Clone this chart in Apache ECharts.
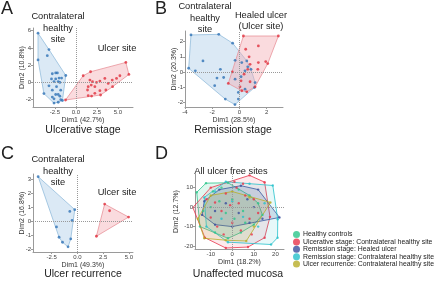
<!DOCTYPE html>
<html><head><meta charset="utf-8">
<script src="https://cdn.jsdelivr.net/npm/echarts@6/dist/echarts.min.js"></script>
<style>html,body{margin:0;padding:0;background:#fff}#c{width:440px;height:282px}</style>
</head><body><div id="c"></div>
<script>
// ---- Panel A: Ulcerative stage ----
const aContra = [[-4.5,5.7],[-3.2,3.8],[-3.4,3.1],[-4.5,2.6],[-1.2,0.8],[-3.8,-1.3],[-2.6,-2.4],[-2.1,-2.3],[-1.8,-2.0],
  [-2.8,1.0],[-2.4,1.1],[-2.2,1.1],[-2.9,0.4],[-2.4,0.4],[-2.0,0.5],[-1.7,0.5],[-2.6,0.1],[-2.1,0.1],[-1.9,0.0],
  [-3.2,-0.4],[-2.3,-0.5],[-2.8,-0.9],[-1.8,-0.9],[-2.4,-1.4],[-2.1,-1.4],[-1.9,-1.6],[-2.8,-1.7],[-2.6,-1.9],[-1.6,-2.1]];
const aUlcer = [[-1.23,-2.04],[0.87,0.77],[1.75,1.23],[5.95,2.31],[6.31,0.92],[5.24,0.77],[4.84,0.46],[4.33,0.27],[3.85,-0.12],
  [3.45,0.46],[2.86,0.15],[2.46,0.0],[1.98,0.08],[1.67,0.27],[1.47,-0.5],[1.83,-0.31],[2.26,-0.5],[1.39,-0.88],[2.86,-0.96],
  [3.57,-0.88],[4.37,-0.5],[2.26,-1.27],[2.94,-1.46],[1.47,-1.54],[1.87,-1.58]];
// ---- Panel B: Remission stage ----
const bContra = [[-3.56,2.44],[-1.52,2.48],[-0.5,1.9],[-3.73,0.25],[-3.24,0.08],[-2.68,0.73],[-1.4,0.18],[-1.65,-0.4],
  [-1.16,-0.36],[-1.82,-0.9],[-1.04,-1.78],[-0.33,-2.14],[-0.32,0.77],[0.17,0.62],[0.54,0.73],[0.61,0.34],[1.15,-0.69],
  [1.1,-1.02],[0.41,-1.13],[-0.08,-1.34],[-0.08,-1.78],[0.12,-0.31],[-0.32,-0.47],[0.41,0.08],[0.85,0.18]];
const bHealed = [[0.29,2.37],[2.86,2.37],[1.39,1.72],[0.46,1.5],[0.71,1.0],[1.39,0.62],[1.93,0.69],[2.08,0.56],[0.78,0.51],
  [0.61,0.18],[1.35,0.18],[-0.52,0.01],[0.34,-0.14],[0.12,-0.58],[0.78,-0.64],[-0.82,-0.75],[0.04,-0.97],[0.17,-1.23],
  [1.15,-0.97],[0.54,-1.3]];
// ---- Panel C: Ulcer recurrence ----
const cContra = [[-3.8,3.21],[-0.25,0.84],[-0.73,0.71],[-0.51,0.07],[-2.02,-0.4],[-1.77,-1.14],[-1.44,-1.5],[-0.9,-1.83],[-0.64,-1.26]];
const cUlcer = [[2.65,1.24],[3.13,0.76],[4.97,0.31],[1.85,-1.07]];
// ---- Panel D: Unaffected mucosa ----
const dHealthy = [[-16.5,7.6],[-12.2,12.3],[-9,8],[-5,10],[-2,12.5],[3,9],[8,6],[12,2],[14,-4],[10,-9],[4,-13],[-2,-16],
  [-8,-13],[-13.5,-2],[-15,-10],[-6,3],[-3,-3],[1,-6],[5,-2],[-10,0],[0,4],[6,-8]];
const dUlcerative = [[-18.3,-0.2],[-10,10],[1,13],[8,16.3],[15,12.8],[17.5,-5],[15,-15.7],[7.3,-20.5],[-3,-21],[-12.7,-15.7],
  [-8,2.4],[-10,-5.3],[-3,7],[2,10],[6,6],[10,4],[-5,-2],[0,-8],[4,-12],[-7,-10],[12,-3],[3,2],[-1,1],[8,-6],[-12,4],[-4,-14],[5,12],[9,-14]];
const dHealed = [[21.9,-5.3],[12,9],[4,11],[-6,9],[-13,3],[-14,-4],[-8,-9],[0,-10],[8,-8],[14,-6],[-3,2],[3,-3],[7,4],[-8,-2],[10,0]];
const dRemContra = [[18.8,11.1],[21.1,-6.2],[21,-15.7],[18,-19.2],[-2,-18],[-12,-10],[-13,5],[-3,13],[8,12],[5,-5],[-5,-6],[12,-10],[0,3],[15,2],[-8,8]];
const dRecurrence = [[17.7,2.4],[10,-10],[6.5,-17.4],[-3,-17],[-13,-16],[-16,-6],[-10,6],[0,8],[8,5]];
const legendNames = ['Healthy controls','Ulcerative stage: Contralateral healthy site','Remission stage: Healed ulcer',
  'Remission stage: Contralateral healthy site','Ulcer recurrence: Contralateral healthy site'];
// ticks
const aXTicks=[-2.5,0,2.5,5], aYTicks=[-2,0,2,4,6];
const bXTicks=[-4,-2,0,2], bYTicks=[-2,-1,0,1,2];
const cXTicks=[-2.5,0,2.5,5], cYTicks=[-2,-1,0,1,2,3];
const dXTicks=[-10,0,10,20], dYTicks=[-20,-10,0,10];

function hull(pts){
  const p=pts.slice().sort((a,b)=>a[0]-b[0]||a[1]-b[1]);
  const cr=(o,a,b)=>(a[0]-o[0])*(b[1]-o[1])-(a[1]-o[1])*(b[0]-o[0]);
  const lo=[],up=[];
  for(const q of p){while(lo.length>=2&&cr(lo[lo.length-2],lo[lo.length-1],q)<=0)lo.pop();lo.push(q);}
  for(let i=p.length-1;i>=0;i--){const q=p[i];while(up.length>=2&&cr(up[up.length-2],up[up.length-1],q)<=0)up.pop();up.push(q);}
  up.pop();lo.pop();return lo.concat(up);
}
function hullSeries(pts,gi,fill,stroke){
  const h=hull(pts);
  return {type:'custom',xAxisIndex:gi,yAxisIndex:gi,silent:true,z:1,data:h,encode:{x:0,y:1},
    renderItem(params,api){
      if(params.dataIndex!==0) return null;
      return {type:'polygon',shape:{points:h.map(p=>api.coord(p))},style:{fill:fill,stroke:stroke,lineWidth:0.8}};
    }};
}
function scat(name,pts,gi,color,zero,size){
  const s={type:'scatter',name:name,xAxisIndex:gi,yAxisIndex:gi,data:pts,symbolSize:size||2.8,z:3,
    itemStyle:{color:color},silent:true};
  if(zero){s.markLine={silent:true,symbol:'none',label:{show:false},
    lineStyle:{type:'dotted',color:'#999',width:1},data:[{xAxis:0},{yAxis:0}]};}
  return s;
}
const F='"Liberation Sans", Arial, sans-serif';
const grids=[
  {left:33,top:28,width:100,height:79},
  {left:185,top:31,width:98,height:76},
  {left:33,top:174,width:100,height:78},
  {left:195,top:174,width:89,height:75}
];
const axisDefs=[
  {x:[-5.1,6.8,aXTicks,v=>v.toFixed(1),'Dim1 (42.7%)'],y:[-2.85,6.3,aYTicks,'Dim2 (10.8%)']},
  {x:[-4,3.2,bXTicks,v=>String(v),'Dim1 (28.5%)'],y:[-2.3,2.7,bYTicks,'Dim2 (20.3%)']},
  {x:[-4.3,5.4,cXTicks,v=>v.toFixed(1),'Dim1 (49.3%)'],y:[-2.2,3.4,cYTicks,'Dim2 (16.8%)']},
  {x:[-17.3,24,dXTicks,v=>String(v),'Dim1 (18.2%)'],y:[-21.5,17,dYTicks,'Dim2 (12.7%)']}
];
const lc='#9a9a9a';
const xAxis=axisDefs.map((d,i)=>({type:'value',gridIndex:i,min:d.x[0],max:d.x[1],
  axisLine:{show:true,onZero:false,lineStyle:{color:lc,width:1}},
  axisTick:{show:true,customValues:d.x[2],length:2,lineStyle:{color:lc}},
  axisLabel:{customValues:d.x[2],formatter:d.x[3],fontSize:6,color:'#444',margin:2,fontFamily:F},
  splitLine:{show:false},name:d.x[4],nameLocation:'middle',nameGap:10,nameMoveOverlap:false,
  nameTextStyle:{fontSize:7,color:'#333',fontFamily:F}}));
const yAxis=axisDefs.map((d,i)=>({type:'value',gridIndex:i,min:d.y[0],max:d.y[1],
  axisLine:{show:true,onZero:false,lineStyle:{color:lc,width:1}},
  axisTick:{show:true,customValues:d.y[2],length:2,lineStyle:{color:lc}},
  axisLabel:{customValues:d.y[2],fontSize:6,color:'#444',margin:2,fontFamily:F},
  splitLine:{show:false},name:d.y[3],nameLocation:'middle',nameGap:i===3?15.5:7,nameMoveOverlap:false,
  nameTextStyle:{fontSize:7,color:'#333',fontFamily:F}}));
const BF='rgba(176,206,232,0.45)',BS='#93bcdc',BP='#2f72b5';
const RF='rgba(243,170,176,0.42)',RS='#e8939a',RP='#e0303c';
const dCols=['#2cc58b','#e8334a','#3a4e9c','#26c1cb','#b8ad28'];
const dFills=['rgba(44,197,139,0.14)','rgba(232,51,74,0.10)','rgba(58,78,156,0.17)','rgba(38,193,203,0.11)','rgba(184,173,40,0.13)'];
const dSets=[dHealthy,dUlcerative,dHealed,dRemContra,dRecurrence];
const series=[
  hullSeries(aContra,0,BF,BS),hullSeries(aUlcer,0,RF,RS),
  scat('a1',aContra,0,BP,true),scat('a2',aUlcer,0,RP,false),
  hullSeries(bContra,1,BF,BS),hullSeries(bHealed,1,RF,RS),
  scat('b1',bContra,1,BP,true),scat('b2',bHealed,1,RP,false),
  hullSeries(cContra,2,BF,BS),hullSeries(cUlcer,2,RF,RS),
  scat('c1',cContra,2,BP,true),scat('c2',cUlcer,2,RP,false)
];
dSets.forEach((s,i)=>series.push(hullSeries(s,3,dFills[i],dCols[i])));
dSets.forEach((s,i)=>series.push(scat(legendNames[i],s,3,dCols[i],i===0,2.4)));
function txt(x,y,t,fs,align){return {type:'text',x:x,y:y,silent:true,
  style:{text:t,fontSize:fs,fontFamily:F,fill:'#222',align:align||'center',verticalAlign:'middle',lineHeight:fs*1.25}};}
const graphic=[
  txt(1,9,'A',18,'left'),txt(155,9,'B',18,'left'),txt(1,154,'C',18,'left'),txt(155,154,'D',18,'left'),
  txt(58,28,'Contralateral\nhealthy\nsite',9.3),txt(117,48,'Ulcer site',9.3),
  txt(205,18,'Contralateral\nhealthy\nsite',9.3),txt(261,21,'Healed ulcer\n(Ulcer site)',9.3),
  txt(58,171,'Contralateral\nhealthy\nsite',9.3),txt(117,192,'Ulcer site',9.3),
  txt(231,171,'All ulcer free sites',9.3),
  txt(83,130,'Ulcerative stage',10.5),txt(233,130,'Remission stage',10.5),
  txt(83,274,'Ulcer recurrence',10.5),txt(238,274,'Unaffected mucosa',10.5)
];
const chart=echarts.init(document.getElementById('c'),null,{renderer:'canvas'});
chart.setOption({animation:false,backgroundColor:'#fff',grid:grids,xAxis:xAxis,yAxis:yAxis,series:series,graphic:graphic,
  legend:{data:legendNames,orient:'vertical',left:293,top:231,itemWidth:7,itemHeight:7,itemGap:0.4,icon:'circle',
    textStyle:{fontSize:6.9,lineHeight:7,fontFamily:F,color:'#222',padding:[0,0,0,-2]},padding:0}});
</script></body></html>
